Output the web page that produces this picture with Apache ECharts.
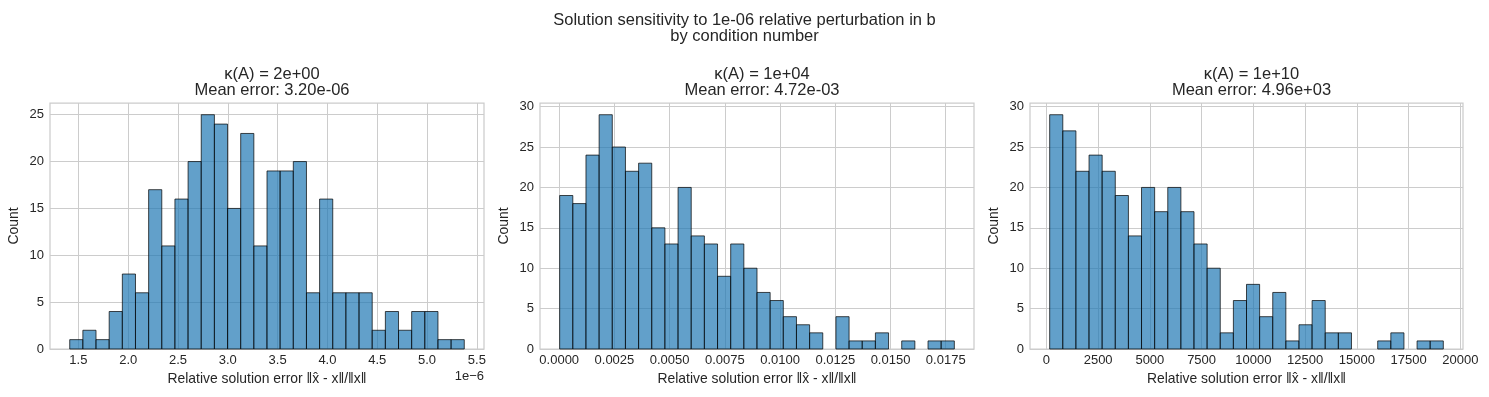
<!DOCTYPE html>
<html lang="en">
<head>
<meta charset="UTF-8">
<title>Solution sensitivity by condition number</title>
<style>
    html, body { margin: 0; padding: 0; background: #fff; }
    #chart { width: 1489px; height: 397px; }
</style>
</head>
<body>
<div id="chart"></div>
<script src="https://cdn.jsdelivr.net/npm/echarts@6/dist/echarts.min.js"></script>
<script type="text/javascript">
    var supTitle = 'Solution sensitivity to 1e-06 relative perturbation in b\nby condition number';
    var panelTitles = [
        'κ(A) = 2e+00\nMean error: 3.20e-06',
        'κ(A) = 1e+04\nMean error: 4.72e-03',
        'κ(A) = 1e+10\nMean error: 4.96e+03'
    ];
    var xName = 'Relative solution error ‖x̂ - x‖/‖x‖';
    var yName = 'Count';

    // histogram counts, 30 bins each
    var counts1 = [1, 2, 1, 4, 8, 6, 17, 11, 16, 20, 25, 24, 15, 23, 11, 19, 19, 20, 6, 16, 6, 6, 6, 2, 4, 2, 4, 4, 1, 1];
    var counts2 = [19, 18, 24, 29, 25, 22, 23, 15, 13, 20, 14, 13, 9, 13, 10, 7, 6, 4, 3, 2, 0, 4, 1, 1, 2, 0, 1, 0, 1, 1];
    var counts3 = [29, 27, 22, 24, 22, 19, 14, 20, 17, 20, 17, 13, 10, 2, 6, 8, 4, 7, 1, 3, 6, 2, 2, 0, 0, 1, 2, 0, 1, 1];

    // first and last bin edge
    var binRange1 = [1.413e-6, 5.374e-6];
    var binRange2 = [0.00002, 0.01789];
    var binRange3 = [159, 19180];

    // axis extents
    var xExtent1 = [1.215e-6, 5.572e-6];
    var xExtent2 = [-0.00087, 0.01878];
    var xExtent3 = [-792, 20131];
    var yMax1 = 26.25;
    var yMax2 = 30.45;
    var yMax3 = 30.45;

    // tick labels
    var xTicks1 = [1.5e-6, 2.0e-6, 2.5e-6, 3.0e-6, 3.5e-6, 4.0e-6, 4.5e-6, 5.0e-6, 5.5e-6];
    var xTicks2 = [0, 0.0025, 0.005, 0.0075, 0.01, 0.0125, 0.015, 0.0175];
    var xTicks3 = [0, 2500, 5000, 7500, 10000, 12500, 15000, 17500, 20000];
    var yTicks1 = [0, 5, 10, 15, 20, 25];
    var yTicks2 = [0, 5, 10, 15, 20, 25, 30];
    var yTicks3 = [0, 5, 10, 15, 20, 25, 30];

    var FONT = '"Liberation Sans", Arial, sans-serif';
    var TEXT = '#262626';
    var LINE = '#cccccc';

    function toBins(counts, range) {
        var w = (range[1] - range[0]) / counts.length;
        return counts.map(function (c, i) {
            return [range[0] + i * w, range[0] + (i + 1) * w, c];
        });
    }

    function renderBar(params, api) {
        if (!api.value(2)) return null;
        var p0 = api.coord([api.value(0), 0]);
        var p1 = api.coord([api.value(1), api.value(2)]);
        return {
            type: 'rect',
            shape: {x: p0[0], y: p1[1], width: p1[0] - p0[0], height: p0[1] - p1[1]},
            style: {fill: 'rgba(31,119,180,0.7)', stroke: 'rgba(0,0,0,0.7)', lineWidth: 1}
        };
    }

    var grids = [
        {left: 50, top: 103, width: 434, height: 246},
        {left: 540, top: 103, width: 434, height: 246},
        {left: 1030, top: 103, width: 433, height: 246}
    ];

    var panels = [
        {counts: counts1, range: binRange1, ext: xExtent1, yMax: yMax1, xt: xTicks1, yt: yTicks1,
            fmt: function (v) { return (v * 1e6).toFixed(1); }},
        {counts: counts2, range: binRange2, ext: xExtent2, yMax: yMax2, xt: xTicks2, yt: yTicks2,
            fmt: function (v) { return v.toFixed(4); }},
        {counts: counts3, range: binRange3, ext: xExtent3, yMax: yMax3, xt: xTicks3, yt: yTicks3,
            fmt: function (v) { return String(Math.round(v)); }}
    ];

    var option = {
        animation: false,
        backgroundColor: '#ffffff',
        textStyle: {fontFamily: FONT},
        title: [{
            text: supTitle, left: 'center', top: 8,
            textStyle: {fontFamily: FONT, fontSize: 16.5, fontWeight: 'normal', color: TEXT, lineHeight: 15.5}
        }],
        grid: [],
        xAxis: [],
        yAxis: [],
        series: [],
        graphic: [{
            type: 'text', right: 1489 - 484, top: 370,
            style: {text: '1e\u22126', font: '13px ' + FONT, fill: TEXT}
        }]
    };

    panels.forEach(function (p, i) {
        var g = grids[i];
        option.grid.push({
            left: g.left, top: g.top, width: g.width, height: g.height,
            show: true, borderColor: LINE, borderWidth: 1.25, backgroundColor: 'transparent'
        });
        option.title.push({
            text: panelTitles[i], left: g.left + g.width / 2, top: 62, textAlign: 'center',
            textStyle: {fontFamily: FONT, fontSize: 16.5, fontWeight: 'normal', color: TEXT, lineHeight: 15.5}
        });
        option.xAxis.push({
            type: 'value', gridIndex: i, min: p.ext[0], max: p.ext[1],
            name: xName, nameLocation: 'middle', nameGap: 22,
            nameTextStyle: {fontFamily: FONT, fontSize: 13.9, color: TEXT, verticalAlign: 'top'},
            axisLine: {show: false},
            axisTick: {show: false, customValues: p.xt},
            axisLabel: {customValues: p.xt, formatter: p.fmt, margin: 5,
                fontFamily: FONT, fontSize: 13, color: TEXT},
            splitLine: {show: true, lineStyle: {color: LINE, width: 1}}
        });
        option.yAxis.push({
            type: 'value', gridIndex: i, min: 0, max: p.yMax,
            name: yName, nameLocation: 'middle', nameGap: 29,
            nameTextStyle: {fontFamily: FONT, fontSize: 13.9, color: TEXT},
            axisLine: {show: false},
            axisTick: {show: false, customValues: p.yt},
            axisLabel: {customValues: p.yt, margin: 6, fontFamily: FONT, fontSize: 13, color: TEXT},
            splitLine: {show: true, lineStyle: {color: LINE, width: 1}}
        });
        option.series.push({
            type: 'custom', xAxisIndex: i, yAxisIndex: i,
            data: toBins(p.counts, p.range),
            encode: {x: [0, 1], y: 2},
            renderItem: renderBar
        });
    });

    var myChart = echarts.init(document.getElementById('chart'));
    myChart.setOption(option);
</script>
</body>
</html>
